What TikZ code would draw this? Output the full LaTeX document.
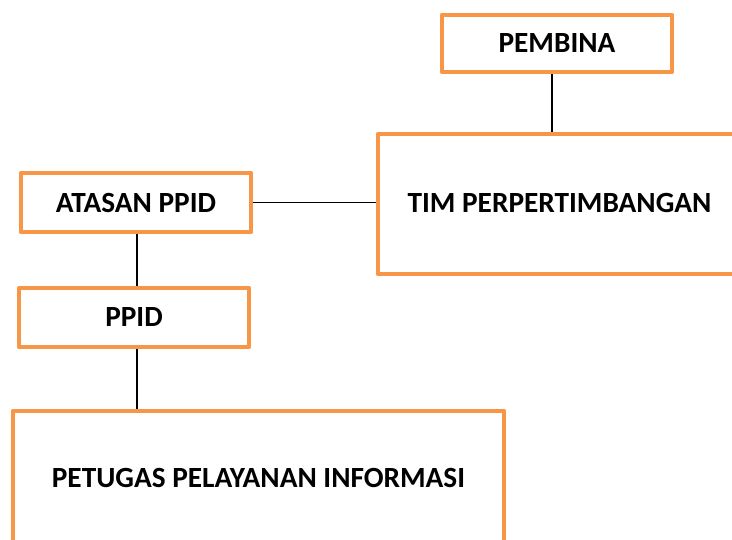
\documentclass[tikz,border=0pt]{standalone}
\usepackage{fontspec}
\setmainfont{Carlito}
\definecolor{boxorange}{HTML}{F79646}
\begin{document}
\begin{tikzpicture}[x=1pt,y=1pt,
  orgbox/.style={draw=boxorange, line width=4.8pt, line join=round, fill=white,
    inner sep=0pt, font=\fontsize{29.3}{34}\selectfont\bfseries, text=black},
  conn/.style={draw=black, line width=1.8pt}]
\useasboundingbox (0,0) rectangle (732,539);
\clip (0,0) rectangle (732,539);
\node[orgbox, minimum width=230pt, minimum height=57pt] (pembina) at (557,495.5) {\raisebox{-2.5pt}{PEMBINA}};
\node[orgbox, minimum width=363pt, minimum height=140pt] (tim) at (559.5,335) {\raisebox{3pt}{TIM PERPERTIMBANGAN}};
\node[orgbox, minimum width=230pt, minimum height=59pt] (atasan) at (136,336.5) {\raisebox{-1.5pt}{ATASAN PPID}};
\node[orgbox, minimum width=230pt, minimum height=59pt] (ppid) at (134,221.5) {PPID};
\node[orgbox, minimum width=491pt, minimum height=135pt] (petugas) at (258.5,60.5) {PETUGAS PELAYANAN INFORMASI};
\draw[conn] ([xshift=-5pt]pembina.south) -- ([xshift=-5pt]pembina.south |- tim.north);
\draw[conn] (atasan.east) -- (atasan.east -| tim.west);
\draw[conn] ([xshift=1pt]atasan.south) -- ([xshift=1pt]atasan.south |- ppid.north);
\draw[conn] ([xshift=3pt]ppid.south) -- ([xshift=3pt]ppid.south |- petugas.north);
\end{tikzpicture}
\end{document}
